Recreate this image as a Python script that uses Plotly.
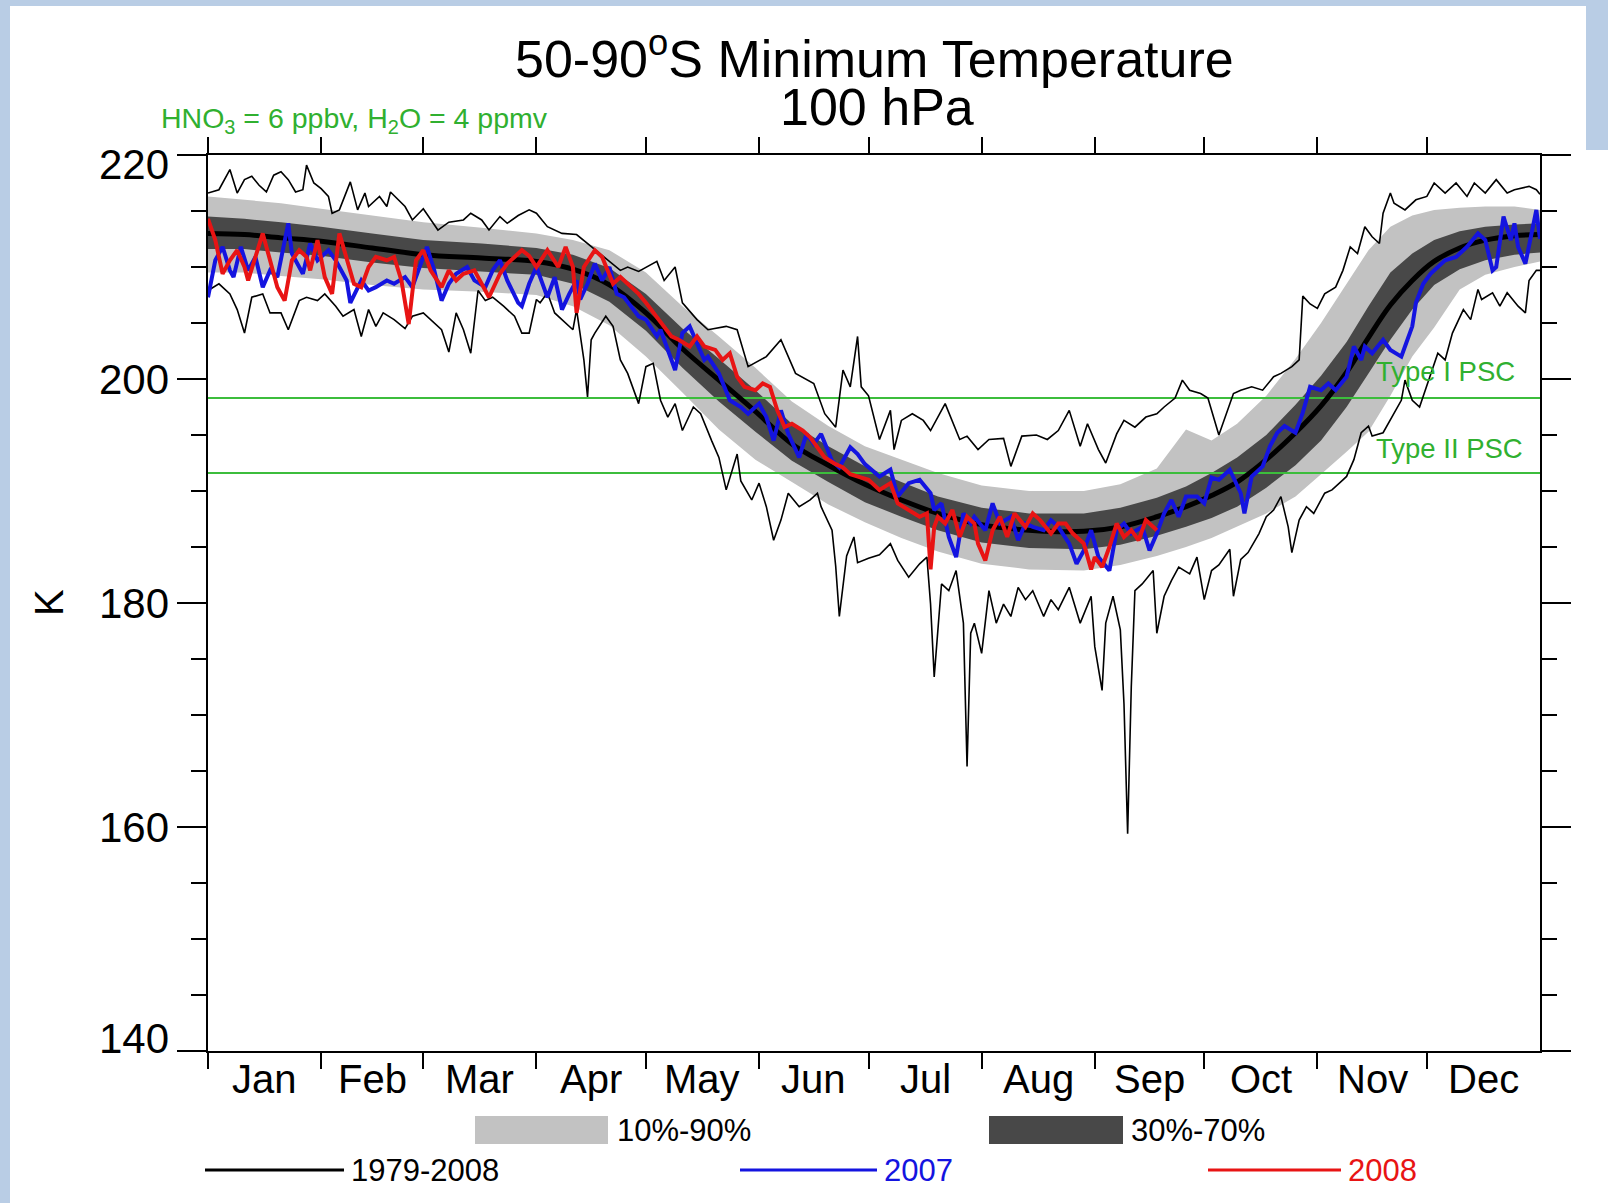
import plotly.graph_objects as go

# ---------------- data ----------------
month_names = ["Jan", "Feb", "Mar", "Apr", "May", "Jun", "Jul", "Aug", "Sep", "Oct", "Nov", "Dec"]
month_starts = [0, 31, 59, 90, 120, 151, 181, 212, 243, 273, 304, 334]
month_mids = [15.5, 45, 74.5, 105, 135.5, 166, 196.5, 227.5, 258, 288.5, 319, 349.5]
y_tick_values = [140, 160, 180, 200, 220]

psc_type1 = 198.3
psc_type2 = 191.6

band_days = [0, 10, 20, 31, 45, 59, 75, 90, 100, 110, 120, 130, 140, 150, 160, 170, 180, 190, 200,
             212, 225, 240, 250, 260, 268, 275, 282, 290, 298, 305, 312, 318, 324, 330, 336, 343,
             350, 358, 365]
clim_mean = [213.0, 212.9, 212.6, 212.3, 211.7, 211.1, 210.8, 210.5, 209.8, 208.4, 205.9, 202.7,
             199.9, 197.1, 194.2, 192.3, 190.6, 189.2, 188.0, 187.0, 186.5, 186.4, 186.8, 187.7,
             188.6, 189.6, 190.8, 192.8, 195.2, 197.6, 200.6, 203.7, 206.6, 208.8, 210.5, 211.7,
             212.4, 212.8, 212.9]
p30 = [211.6, 211.6, 211.3, 211.0, 210.4, 209.9, 209.6, 209.3, 208.5, 206.9, 204.3, 201.0, 198.0,
       195.3, 192.7, 190.8, 189.0, 187.7, 186.5, 185.4, 184.9, 184.8, 185.2, 186.0, 186.8, 187.6,
       188.6, 190.3, 192.3, 194.5, 197.5, 200.5, 203.5, 206.2, 208.4, 209.8, 210.6, 211.1, 211.3]
p70 = [214.5, 214.3, 214.0, 213.6, 213.0, 212.4, 212.1, 211.7, 211.1, 209.9, 207.6, 204.5, 201.8,
       199.0, 196.0, 194.0, 192.2, 190.8, 189.5, 188.5, 188.0, 188.0, 188.5, 189.4, 190.4, 191.6,
       193.0, 195.0, 197.7, 200.3, 203.3, 206.5, 209.5, 211.2, 212.4, 213.2, 213.6, 213.8, 213.9]
p10 = [209.5, 209.5, 209.2, 208.9, 208.4, 208.0, 207.8, 207.5, 206.5, 204.8, 202.0, 198.8, 195.5,
       192.8, 190.8, 188.8, 187.2, 185.8, 184.6, 183.5, 183.0, 182.9, 183.4, 184.2, 185.0, 185.8,
       186.8, 188.0, 189.5, 191.5, 193.5, 195.3, 198.5, 202.0, 204.6, 208.0, 209.3, 210.0, 210.5]
p90 = [216.3, 216.0, 215.7, 215.2, 214.6, 214.0, 213.5, 213.0, 212.4, 211.5, 209.5, 206.5, 203.8,
       201.0, 198.0, 195.8, 194.0, 192.8, 191.6, 190.5, 190.0, 190.0, 190.6, 192.0, 195.5, 194.5,
       196.0, 198.5, 201.8, 205.0, 208.5, 211.5, 213.6, 214.6, 215.1, 215.3, 215.4, 215.4, 215.1]

max_days = [0, 3, 6, 8, 10, 12, 14, 16, 18, 20, 22, 24, 26, 27, 29, 31, 33, 34, 36, 39, 41, 43, 44,
            47, 49, 50, 54, 56, 59, 63, 66, 70, 72, 75, 77, 80, 82, 85, 88, 90, 93, 97, 101, 104,
            109, 113, 115, 118, 123, 125, 128, 130, 134, 137, 142, 145, 148, 153, 157, 161, 166,
            169, 172, 174, 176, 178, 179, 181, 184, 187, 188, 190, 193, 196, 198, 202, 206, 208,
            211, 214, 218, 220, 223, 227, 230, 233, 236, 239, 241, 244, 246, 249, 251, 254, 257,
            260, 262, 265, 267, 269, 272, 274, 277, 281, 283, 286, 289, 292, 294, 297, 299, 300,
            302, 304, 306, 309, 311, 313, 315, 317, 319, 321, 322, 324, 325, 328, 331, 334, 336,
            339, 342, 345, 347, 350, 353, 356, 358, 362, 364, 365]
max_vals = [216.6, 216.9, 218.7, 216.6, 217.8, 218.1, 217.3, 216.7, 218.2, 218.5, 217.8, 216.7,
            216.9, 219.1, 217.5, 217.0, 216.3, 214.8, 215.1, 217.6, 215.1, 216.6, 215.4, 216.3,
            215.4, 216.7, 215.4, 214.2, 215.2, 213.3, 214.0, 214.2, 214.8, 214.2, 213.3, 214.5,
            213.9, 214.6, 215.1, 214.8, 213.6, 213.0, 212.9, 212.1, 210.8, 209.7, 210.0, 209.6,
            210.5, 208.8, 210.0, 206.8, 205.3, 204.4, 204.7, 204.4, 201.1, 202.0, 203.5, 200.5,
            199.6, 196.9, 195.7, 200.8, 199.3, 203.8, 199.3, 198.5, 194.6, 197.2, 193.7, 196.3,
            196.9, 196.3, 195.4, 197.8, 194.6, 194.9, 193.7, 194.6, 194.7, 192.2, 194.9, 195.0,
            194.6, 195.4, 197.2, 194.0, 196.0, 193.7, 192.5, 195.1, 196.3, 195.7, 196.6, 196.9,
            197.5, 198.3, 199.9, 199.0, 198.7, 198.3, 195.0, 198.7, 199.0, 199.3, 199.0, 200.2,
            200.5, 201.1, 201.7, 207.4, 206.7, 206.3, 207.6, 208.2, 209.7, 211.8, 211.2, 213.6,
            212.7, 212.1, 214.8, 216.6, 215.7, 215.1, 216.0, 216.3, 217.5, 216.6, 217.5, 216.3,
            217.5, 216.6, 217.8, 216.6, 216.9, 217.2, 216.9, 216.5]

min_days = [0, 3, 6, 8, 10, 12, 15, 17, 20, 22, 25, 27, 30, 32, 35, 37, 40, 42, 44, 46, 48, 51, 54,
            56, 59, 62, 64, 66, 68, 70, 72, 74, 76, 78, 81, 84, 86, 88, 90, 91, 93, 95, 97, 100,
            101, 103, 104, 105, 106, 109, 111, 113, 115, 118, 120, 122, 124, 126, 128, 130, 133,
            135, 138, 140, 142, 145, 146, 149, 151, 153, 155, 157, 159, 162, 165, 167, 168, 171,
            172, 173, 175, 177, 178, 181, 184, 187, 189, 192, 195, 197, 198, 199, 201, 203, 205,
            207, 208, 209, 210, 212, 214, 216, 218, 220, 222, 224, 226, 229, 231, 233, 236, 239,
            242, 243, 245, 246, 248, 250, 251, 252, 253, 254, 256, 259, 260, 262, 264, 266, 269,
            271, 273, 275, 277, 280, 281, 283, 285, 288, 290, 292, 294, 296, 297, 299, 301, 303,
            306, 308, 311, 312, 314, 316, 318, 319, 322, 324, 327, 328, 330, 332, 335, 337, 339,
            341, 344, 346, 348, 349, 352, 354, 356, 359, 361, 362, 364, 365]
min_vals = [207.9, 208.5, 207.6, 206.2, 204.1, 207.3, 207.6, 205.9, 205.9, 204.4, 207.0, 207.3,
            207.0, 207.6, 206.5, 205.6, 206.2, 203.8, 206.2, 204.7, 205.9, 205.3, 204.5, 205.6,
            205.9, 205.0, 204.4, 202.4, 205.9, 204.4, 202.3, 207.9, 207.0, 207.3, 206.5, 205.6,
            204.1, 204.1, 207.1, 206.8, 207.7, 205.9, 205.3, 204.4, 206.2, 201.7, 198.4, 203.5,
            204.1, 205.6, 204.7, 201.7, 200.5, 197.8, 201.1, 201.4, 198.1, 196.6, 197.8, 195.4,
            197.5, 196.9, 194.5, 193.0, 190.1, 193.3, 190.9, 189.2, 190.7, 188.6, 185.6, 187.4,
            189.8, 188.6, 189.2, 189.8, 188.6, 186.5, 183.3, 178.8, 184.2, 185.9, 183.6, 184.0,
            184.3, 185.3, 183.8, 182.3, 183.5, 184.1, 179.9, 173.4, 181.7, 181.1, 182.9, 178.2,
            165.4, 177.3, 178.2, 175.5, 181.1, 178.2, 179.9, 178.8, 181.4, 180.3, 181.1, 178.8,
            180.3, 179.4, 181.4, 178.2, 180.6, 176.1, 172.2, 178.2, 180.6, 177.6, 171.0, 159.4,
            172.5, 181.1, 181.7, 182.9, 177.3, 180.6, 182.0, 183.2, 182.6, 184.1, 180.3, 182.9,
            183.4, 184.8, 180.6, 183.9, 184.5, 186.2, 187.7, 188.3, 189.5, 186.8, 184.5, 187.4,
            188.6, 188.0, 189.8, 190.1, 191.0, 191.3, 192.8, 195.2, 195.8, 194.9, 195.2, 196.4,
            198.1, 199.9, 198.1, 197.5, 200.5, 202.3, 201.7, 204.1, 206.2, 205.3, 208.0, 207.1,
            207.7, 206.5, 207.7, 206.5, 205.9, 208.8, 209.7, 209.7]

y2007_days = [0, 2, 4, 6, 7, 9, 11, 13, 15, 17, 19, 22, 23, 26, 28, 30, 33, 35, 38, 39, 42, 44, 46,
              49, 51, 54, 56, 58, 60, 62, 64, 66, 68, 71, 73, 76, 78, 80, 82, 85, 86, 88, 90, 92,
              93, 95, 97, 99, 101, 102, 104, 106, 108, 110, 112, 114, 116, 118, 120, 123, 124, 126,
              128, 130, 132, 134, 136, 137, 140, 143, 146, 148, 151, 153, 155, 157, 159, 162, 164,
              166, 168, 171, 173, 176, 178, 180, 182, 184, 187, 189, 192, 195, 198, 199, 201, 203,
              205, 207, 209, 210, 213, 215, 217, 220, 222, 224, 226, 229, 231, 233, 236, 238, 240,
              242, 244, 247, 249, 251, 253, 256, 258, 260, 262, 264, 266, 268, 271, 273, 275, 277,
              280, 283, 284, 286, 289, 291, 293, 295, 298, 300, 302, 305, 307, 309, 312, 314, 316,
              317, 319, 322, 324, 327, 328, 330, 331, 333, 335, 337, 339, 342, 345, 348, 350, 352,
              353, 355, 357, 358, 359, 361, 363, 364, 365]
y2007_vals = [207.3, 210.6, 211.8, 209.7, 209.1, 211.8, 209.7, 210.9, 208.2, 209.7, 209.1, 213.9,
              211.2, 209.4, 212.1, 210.6, 211.5, 210.6, 208.8, 206.8, 208.8, 207.9, 208.2, 208.8,
              208.5, 209.1, 208.2, 210.0, 211.8, 209.7, 207.0, 208.5, 209.4, 210.0, 208.8, 208.2,
              209.7, 210.6, 208.8, 206.8, 206.5, 208.5, 210.0, 208.2, 207.3, 209.1, 206.2, 207.6,
              208.8, 207.1, 208.5, 210.3, 208.8, 210.0, 207.6, 207.3, 206.5, 205.6, 205.3, 203.8,
              204.4, 202.6, 200.8, 204.1, 204.7, 203.2, 201.7, 202.0, 200.5, 198.1, 197.5, 196.9,
              197.8, 196.6, 194.5, 197.2, 195.1, 193.0, 195.1, 194.2, 195.1, 192.7, 192.1, 193.9,
              193.3, 192.4, 191.8, 191.3, 191.9, 189.5, 190.7, 191.0, 189.8, 188.3, 188.9, 185.9,
              184.1, 188.0, 187.1, 187.7, 186.5, 188.9, 187.1, 187.7, 185.6, 187.1, 186.8, 186.5,
              187.4, 186.8, 185.3, 183.5, 184.7, 186.5, 184.1, 182.9, 186.5, 187.1, 186.2, 186.8,
              184.7, 186.2, 188.0, 189.2, 187.7, 189.5, 189.5, 188.9, 191.2, 191.0, 191.9, 189.8,
              188.0, 191.3, 192.2, 194.0, 195.2, 195.8, 195.2, 197.0, 199.3, 199.0, 199.6, 199.0,
              200.2, 202.9, 201.7, 202.9, 202.3, 203.5, 202.6, 202.0, 202.9, 204.7, 206.8, 208.5,
              209.4, 210.0, 210.6, 210.9, 211.8, 213.0, 212.4, 209.7, 210.0, 214.5, 212.4, 213.9,
              211.8, 210.3, 213.6, 215.1, 212.5]

y2008_days = [0, 2, 4, 6, 8, 10, 11, 13, 15, 17, 19, 21, 23, 25, 27, 28, 30, 32, 34, 36, 38, 40,
              42, 44, 46, 49, 51, 53, 55, 57, 59, 61, 64, 66, 68, 70, 73, 75, 77, 80, 82, 84, 86,
              88, 90, 93, 96, 98, 100, 101, 103, 106, 108, 111, 113, 115, 118, 120, 122, 124, 127,
              129, 132, 134, 136, 139, 141, 143, 145, 147, 150, 152, 154, 156, 158, 160, 163, 165,
              167, 169, 172, 174, 176, 179, 181, 184, 187, 189, 192, 195, 197, 198, 199, 200, 202,
              204, 206, 208, 210, 211, 213, 215, 217, 219, 221, 224, 226, 228, 231, 233, 235, 237,
              240, 242, 243, 245, 247, 249, 251, 253, 255, 257, 258, 260]
y2008_vals = [214.3, 212.4, 209.4, 210.6, 211.5, 210.0, 208.8, 210.9, 213.0, 210.6, 208.2, 207.0,
              210.6, 211.5, 210.9, 209.7, 212.4, 209.1, 207.6, 213.0, 210.6, 208.5, 208.2, 210.0,
              210.9, 210.6, 210.9, 208.8, 204.9, 210.6, 211.5, 209.7, 208.2, 209.7, 208.8, 209.4,
              209.7, 208.5, 207.3, 209.4, 210.3, 210.9, 211.5, 211.0, 210.0, 211.5, 210.0, 211.8,
              210.0, 205.9, 210.0, 211.5, 210.9, 208.5, 209.1, 208.5, 207.6, 206.8, 205.9, 205.0,
              203.8, 203.5, 202.9, 203.8, 202.9, 202.6, 201.7, 202.3, 200.2, 199.3, 199.0, 199.6,
              199.3, 197.2, 195.7, 196.0, 195.4, 194.8, 193.9, 193.0, 192.4, 192.1, 191.5, 191.2,
              191.0, 190.1, 190.7, 188.9, 188.3, 187.7, 188.0, 183.0, 186.8, 187.7, 187.1, 188.3,
              185.9, 187.7, 187.1, 185.3, 183.8, 186.5, 187.7, 185.9, 188.0, 186.8, 188.0, 187.4,
              186.2, 187.1, 187.1, 186.2, 185.3, 183.0, 184.1, 183.2, 185.0, 187.1, 185.9, 186.5,
              185.6, 187.4, 187.1, 186.5]

# ---------------- layout geometry ----------------
W, H = 1608, 1203
L, R, T, B = 208, 1540, 155, 1051


def px(x):
    return (x - L) / (R - L)


def py(y):
    return (B - y) / (B - T)


FONT = "Arial, Liberation Sans, sans-serif"
LIGHT = "#c2c2c2"
DARK = "#484848"
BLUE = "#1414e0"
RED = "#e81414"
GREEN = "#3cbd3c"
GTEXT = "#30b030"

fig = go.Figure()

# 10%-90% band
fig.add_trace(go.Scatter(x=band_days + band_days[::-1], y=p90 + p10[::-1], fill="toself",
                         fillcolor=LIGHT, line=dict(width=0), mode="lines", hoverinfo="skip"))
# 30%-70% band
fig.add_trace(go.Scatter(x=band_days + band_days[::-1], y=p70 + p30[::-1], fill="toself",
                         fillcolor=DARK, line=dict(width=0), mode="lines", hoverinfo="skip"))

# PSC threshold lines
for v in (psc_type1, psc_type2):
    fig.add_trace(go.Scatter(x=[0, 365], y=[v, v], mode="lines",
                             line=dict(color=GREEN, width=2), hoverinfo="skip"))

# extreme envelopes
fig.add_trace(go.Scatter(x=max_days, y=max_vals, mode="lines", line=dict(color="black", width=1.6)))
fig.add_trace(go.Scatter(x=min_days, y=min_vals, mode="lines", line=dict(color="black", width=1.6)))

# climatological mean
fig.add_trace(go.Scatter(x=band_days, y=clim_mean, mode="lines",
                         line=dict(color="black", width=5, shape="spline")))

# 2007, 2008
fig.add_trace(go.Scatter(x=y2007_days, y=y2007_vals, mode="lines", line=dict(color=BLUE, width=4)))
fig.add_trace(go.Scatter(x=y2008_days, y=y2008_vals, mode="lines", line=dict(color=RED, width=4)))

fig.update_layout(
    width=W, height=H, autosize=False,
    margin=dict(l=L, r=W - R, t=T, b=H - B),
    paper_bgcolor="white", plot_bgcolor="white",
    showlegend=False,
    font=dict(family=FONT, color="black"),
)

fig.update_xaxes(
    range=[0, 365], showgrid=False, zeroline=False,
    showline=True, linecolor="black", linewidth=2, mirror="ticks",
    tickmode="array", tickvals=month_starts, showticklabels=False,
    ticks="outside", ticklen=16, tickwidth=2, tickcolor="black",
)
fig.update_yaxes(
    range=[140, 220], showgrid=False, zeroline=False,
    showline=True, linecolor="black", linewidth=2, mirror="ticks",
    tickmode="array", tickvals=y_tick_values, showticklabels=False,
    ticks="outside", ticklen=29, tickwidth=2, tickcolor="black",
    minor=dict(dtick=5, ticks="outside", ticklen=15, tickwidth=2, tickcolor="black", showgrid=False),
)

ann = []
# month labels (centred in each month, below the axis)
for name, mid in zip(month_names, month_mids):
    ann.append(dict(text=name, x=mid, xref="x", y=py(1079), yref="paper", showarrow=False,
                    xanchor="center", yanchor="middle",
                    font=dict(size=40, family=FONT, color="black")))
# y tick labels (end labels nudged inward as in the reference)
yshifts = {140: 13, 160: 0, 180: 0, 200: 0, 220: -9}
for v in y_tick_values:
    ann.append(dict(text=str(v), x=px(171), xref="paper", y=v, yref="y", yshift=yshifts[v],
                    showarrow=False, xanchor="right", yanchor="middle",
                    font=dict(size=42, family=FONT, color="black")))

ann.append(dict(text="50-90<sup>o</sup>S Minimum Temperature", x=px(874), y=py(55), xref="paper",
                yref="paper", showarrow=False, xanchor="center", yanchor="middle",
                font=dict(size=52, family=FONT, color="black")))
ann.append(dict(text="100 hPa", x=px(877), y=py(107), xref="paper", yref="paper", showarrow=False,
                xanchor="center", yanchor="middle", font=dict(size=52, family=FONT, color="black")))
ann.append(dict(text="HNO<sub>3</sub> = 6 ppbv, H<sub>2</sub>O = 4 ppmv", x=px(159), y=py(120),
                xref="paper", yref="paper", showarrow=False, xanchor="left", yanchor="middle",
                font=dict(size=28.5, family=FONT, color=GTEXT)))
ann.append(dict(text="K", x=px(49), y=0.5, xref="paper", yref="paper", showarrow=False,
                textangle=-90, xanchor="center", yanchor="middle",
                font=dict(size=40, family=FONT, color="black")))
ann.append(dict(text="Type I PSC", x=px(1374), y=py(371), xref="paper", yref="paper",
                showarrow=False, xanchor="left", yanchor="middle",
                font=dict(size=27.5, family=FONT, color=GTEXT)))
ann.append(dict(text="Type II PSC", x=px(1374), y=py(448), xref="paper", yref="paper",
                showarrow=False, xanchor="left", yanchor="middle",
                font=dict(size=27.5, family=FONT, color=GTEXT)))

legend_font = 31
for label, xx, col in [("10%-90%", 615, "black"), ("30%-70%", 1129, "black")]:
    ann.append(dict(text=label, x=px(xx), y=py(1130), xref="paper", yref="paper", showarrow=False,
                    xanchor="left", yanchor="middle", font=dict(size=legend_font, family=FONT, color=col)))
for label, xx, col in [("1979-2008", 349, "black"), ("2007", 882, BLUE), ("2008", 1346, RED)]:
    ann.append(dict(text=label, x=px(xx), y=py(1170), xref="paper", yref="paper", showarrow=False,
                    xanchor="left", yanchor="middle", font=dict(size=legend_font, family=FONT, color=col)))
fig.update_layout(annotations=ann)

shapes = []
# frame strips
FRAME = "#b9cde5"
shapes.append(dict(type="rect", xref="paper", yref="paper", x0=px(0), x1=px(10), y0=py(H), y1=py(0),
                   fillcolor=FRAME, line=dict(width=0), layer="below"))
shapes.append(dict(type="rect", xref="paper", yref="paper", x0=px(0), x1=px(W), y0=py(6), y1=py(0),
                   fillcolor=FRAME, line=dict(width=0), layer="below"))
shapes.append(dict(type="rect", xref="paper", yref="paper", x0=px(1586), x1=px(W), y0=py(150), y1=py(0),
                   fillcolor=FRAME, line=dict(width=0), layer="below"))
# legend swatches
shapes.append(dict(type="rect", xref="paper", yref="paper", x0=px(475), x1=px(608), y0=py(1144),
                   y1=py(1116), fillcolor=LIGHT, line=dict(width=0)))
shapes.append(dict(type="rect", xref="paper", yref="paper", x0=px(989), x1=px(1123), y0=py(1144),
                   y1=py(1116), fillcolor=DARK, line=dict(width=0)))
for x0, x1, col in [(205, 344, "black"), (740, 877, BLUE), (1208, 1341, RED)]:
    shapes.append(dict(type="line", xref="paper", yref="paper", x0=px(x0), x1=px(x1), y0=py(1170),
                       y1=py(1170), line=dict(color=col, width=3)))
fig.update_layout(shapes=shapes)

fig.write_html("out.html", config={"displayModeBar": False},
               post_script="document.body.style.margin='0px';document.body.style.overflow='hidden';")
